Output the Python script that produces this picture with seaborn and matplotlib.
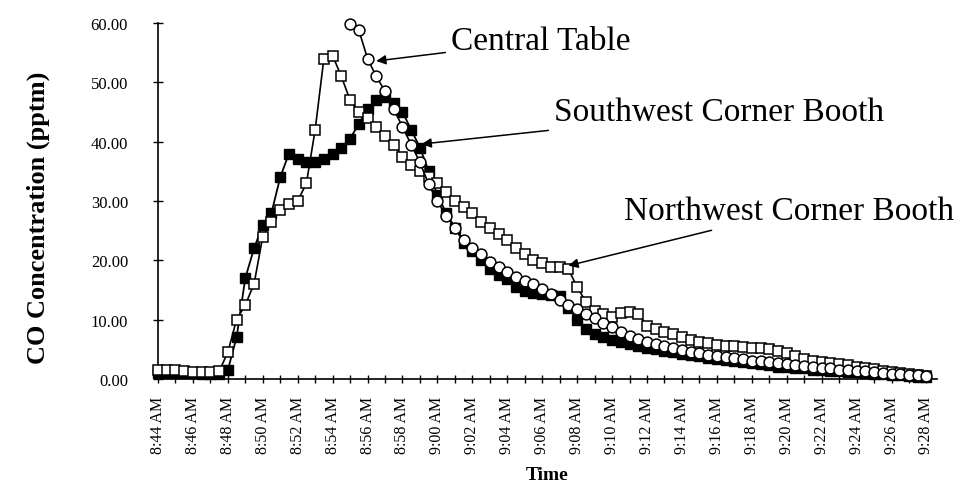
import numpy as np
import matplotlib
matplotlib.use('Agg')
import matplotlib.pyplot as plt
import seaborn as sns

# readings every 30 s, time in minutes after 8:44 AM
step = 0.5

# Southwest Corner Booth (filled squares), from 8:44
southwest = [1.0, 1.0, 1.0, 1.0, 1.0, 0.9, 0.9, 0.9, 1.5, 7.0,
             17.0, 22.0, 26.0, 28.0, 34.0, 38.0, 37.0, 36.5, 36.5, 37.0,
             38.0, 39.0, 40.5, 43.0, 45.5, 47.0, 47.5, 46.5, 45.0, 42.0,
             39.0, 35.0, 31.0, 28.0, 25.5, 23.0, 21.5, 20.0, 18.5, 17.5,
             16.8, 15.5, 14.8, 14.5, 14.3, 14.2, 14.0, 12.0, 10.0, 8.5,
             7.5, 7.0, 6.6, 6.2, 5.9, 5.6, 5.3, 5.0, 4.7, 4.5,
             4.2, 4.0, 3.8, 3.6, 3.4, 3.2, 3.0, 2.8, 2.7, 2.5,
             2.3, 2.1, 2.0, 1.9, 1.8, 1.6, 1.5, 1.4, 1.3, 1.2,
             1.1, 1.0, 0.9, 0.8, 0.7, 0.6, 0.5, 0.4, 0.4]

# Northwest Corner Booth (open squares), from 8:44
northwest = [1.6, 1.6, 1.5, 1.3, 1.2, 1.2, 1.2, 1.3, 4.5, 10.0,
             12.5, 16.0, 24.0, 26.5, 28.5, 29.5, 30.0, 33.0, 42.0, 54.0,
             54.5, 51.0, 47.0, 45.0, 44.0, 42.5, 41.0, 39.5, 37.5, 36.0,
             35.0, 34.0, 33.0, 31.5, 30.0, 29.0, 28.0, 26.5, 25.5, 24.5,
             23.5, 22.0, 21.0, 20.0, 19.5, 18.8, 18.8, 18.5, 15.5, 13.0,
             11.5, 11.0, 10.5, 11.2, 11.3, 11.0, 9.0, 8.5, 8.0, 7.5,
             7.0, 6.6, 6.3, 6.0, 5.8, 5.6, 5.5, 5.4, 5.3, 5.2,
             5.0, 4.8, 4.3, 3.8, 3.4, 3.1, 2.9, 2.7, 2.5, 2.3,
             2.1, 1.9, 1.7, 1.4, 1.2, 1.0, 0.8, 0.6, 0.5]

# Central Table (open circles), from 8:55
central_start = 11.0
central = [59.8, 58.8, 54.0, 51.0, 48.5, 45.5, 42.5, 39.5, 36.5, 32.8,
           30.0, 27.5, 25.5, 23.5, 22.0, 21.0, 19.8, 18.8, 18.0, 17.2,
           16.6, 16.0, 15.2, 14.3, 13.3, 12.5, 11.8, 11.0, 10.2, 9.4,
           8.7, 8.0, 7.3, 6.8, 6.3, 5.9, 5.6, 5.2, 4.9, 4.6,
           4.3, 4.1, 3.9, 3.7, 3.5, 3.3, 3.1, 3.0, 2.8, 2.7,
           2.5, 2.3, 2.2, 2.0, 1.9, 1.8, 1.6, 1.5, 1.4, 1.3,
           1.1, 1.0, 0.9, 0.8, 0.7, 0.6, 0.5]

tick_labels = ['8:44 AM', '8:46 AM', '8:48 AM', '8:50 AM', '8:52 AM', '8:54 AM',
               '8:56 AM', '8:58 AM', '9:00 AM', '9:02 AM', '9:04 AM', '9:06 AM',
               '9:08 AM', '9:10 AM', '9:12 AM', '9:14 AM', '9:16 AM', '9:18 AM',
               '9:20 AM', '9:22 AM', '9:24 AM', '9:26 AM', '9:28 AM']

t_sw = np.arange(len(southwest)) * step
t_nw = np.arange(len(northwest)) * step
t_ct = central_start + np.arange(len(central)) * step

sns.set_style('white')
plt.rcParams['font.family'] = ['Liberation Serif', 'DejaVu Serif']
plt.rcParams['text.color'] = 'black'
plt.rcParams['axes.labelcolor'] = 'black'

fig = plt.figure(figsize=(9.55, 4.85), dpi=100)
ax = fig.add_axes([0.1654, 0.2165, 0.8157, 0.734])

sns.lineplot(x=t_sw, y=southwest, ax=ax, color='black', lw=1.3, marker='s',
             markersize=7, markerfacecolor='black', markeredgecolor='black',
             markeredgewidth=1, clip_on=False, zorder=2)
sns.lineplot(x=t_nw, y=northwest, ax=ax, color='black', lw=1.2, marker='s',
             markersize=7.8, markerfacecolor='white', markeredgecolor='black',
             markeredgewidth=1.1, clip_on=False, zorder=3)
sns.lineplot(x=t_ct, y=central, ax=ax, color='black', lw=1.2, marker='o',
             markersize=7.8, markerfacecolor='white', markeredgecolor='black',
             markeredgewidth=1.1, clip_on=False, zorder=4)

ax.set_xlim(0, 44.6)
ax.set_ylim(0, 60)
ax.set_xticks(np.arange(len(tick_labels)) * 2)
ax.set_xticklabels(tick_labels, rotation=90)
ax.set_xticks(np.arange(1, 44, 2), minor=True)
ax.set_yticks(np.arange(0, 61, 10))
ax.yaxis.set_major_formatter(matplotlib.ticker.FormatStrFormatter('%.2f'))

for s in ['top', 'right']:
    ax.spines[s].set_visible(False)
for s in ['left', 'bottom']:
    ax.spines[s].set_color('black')
    ax.spines[s].set_linewidth(1.2)

ax.tick_params(axis='y', direction='inout', length=7, width=1, labelsize=12,
               pad=18, left=True, colors='black')
ax.tick_params(axis='x', which='both', direction='inout', length=6, width=1,
               labelsize=11.5, pad=9, bottom=True, colors='black')

ax.set_ylabel('CO Concentration (pptm)', fontsize=19, fontweight='bold')
ax.yaxis.set_label_coords(-0.139, 0.455)
ax.set_xlabel('Time', fontsize=14, fontweight='bold')
ax.xaxis.set_label_coords(0.5, -0.245)

arrow = dict(arrowstyle='-|>', color='black', lw=1.1, mutation_scale=14,
             shrinkA=2, shrinkB=0)
ax.annotate('Central Table', xy=(12.5, 53.6), xytext=(16.8, 57),
            ha='left', va='center', fontsize=24, color='black', arrowprops=arrow)
ax.annotate('Southwest Corner Booth', xy=(15.1, 39.6), xytext=(22.7, 45.0),
            ha='left', va='center', fontsize=24, color='black', arrowprops=arrow)
ax.annotate('Northwest Corner Booth', xy=(23.5, 19.1), xytext=(26.7, 28.3),
            ha='left', va='center', fontsize=24, color='black', arrowprops=arrow)

fig.savefig('out.png', dpi=100)
